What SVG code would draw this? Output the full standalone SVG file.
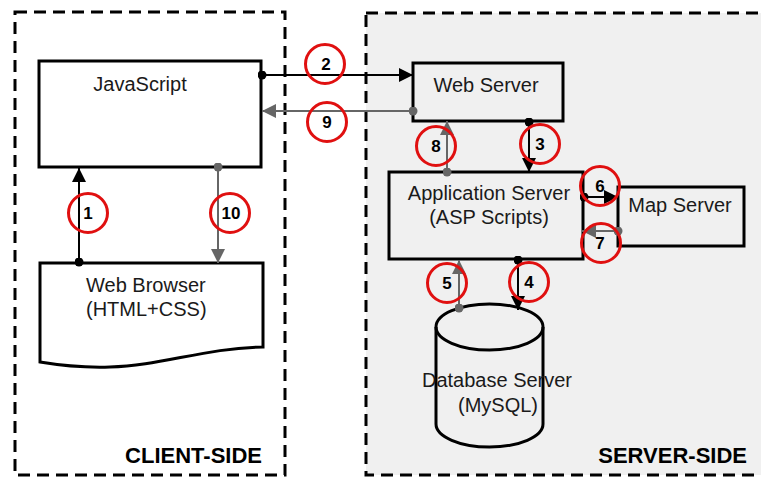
<svg xmlns="http://www.w3.org/2000/svg" width="761" height="477" viewBox="0 0 761 477">
<style>
text{font-family:"Liberation Sans",Arial,sans-serif;fill:#1a1a1a}
.lbl{font-size:20px}
.zone{fill:none;stroke:#000;stroke-width:3;stroke-dasharray:12 7}
.zt{font-size:22px;font-weight:bold;text-anchor:end;fill:#000}
.box{fill:none;stroke:#000;stroke-width:3}
.blk{stroke:#000;stroke-width:2;fill:none}
.gry{stroke:#666;stroke-width:2;fill:none}
.num circle{fill:none;stroke:#e01010;stroke-width:3}
.num text{font-size:17px;font-weight:bold;text-anchor:middle;fill:#000}
</style>
<defs>
<marker id="ab" viewBox="0 0 14 14" refX="14" refY="7" markerWidth="14" markerHeight="14" markerUnits="userSpaceOnUse" orient="auto"><path d="M0,0 L14,7 L0,14 z" fill="#000"/></marker>
<marker id="ag" viewBox="0 0 14 14" refX="14" refY="7" markerWidth="14" markerHeight="14" markerUnits="userSpaceOnUse" orient="auto"><path d="M0,0 L14,7 L0,14 z" fill="#666"/></marker>
<marker id="db" viewBox="0 0 10 10" refX="5" refY="5" markerWidth="9" markerHeight="9" markerUnits="userSpaceOnUse"><circle cx="5" cy="5" r="5" fill="#000"/></marker>
<marker id="dg" viewBox="0 0 10 10" refX="5" refY="5" markerWidth="9" markerHeight="9" markerUnits="userSpaceOnUse"><circle cx="5" cy="5" r="5" fill="#666"/></marker>
</defs>
<rect width="761" height="477" fill="#fff"/>
<g id="server-side">
<rect x="366" y="13" width="400" height="462" fill="#f0f0f0"/>
<rect x="366" y="13" width="400" height="462" class="zone"/>
<text class="zt" x="747" y="463">SERVER-SIDE</text>
</g>
<g id="client-side">
<rect x="15" y="12" width="270" height="463" class="zone"/>
<text class="zt" x="262" y="463">CLIENT-SIDE</text>
</g>
<g id="javascript">
<rect x="39" y="61" width="222" height="106" fill="#fff" stroke="#000" stroke-width="3"/>
<text class="lbl" x="140" y="91" text-anchor="middle">JavaScript</text>
</g>
<g id="web-browser">
<path d="M40,263 H263 V347 C205,348 160,366 110,367 C80,368 58,365 40,362 Z" fill="#fff" stroke="#000" stroke-width="3"/>
<text class="lbl" x="86" y="292">Web Browser</text>
<text class="lbl" x="86" y="316">(HTML+CSS)</text>
</g>
<g id="web-server">
<rect x="413" y="63" width="150" height="58" class="box"/>
<text class="lbl" x="486" y="92" text-anchor="middle">Web Server</text>
</g>
<g id="application-server">
<rect x="389" y="172" width="194" height="87" class="box"/>
<text class="lbl" x="489" y="200" text-anchor="middle">Application Server</text>
<text class="lbl" x="489" y="224" text-anchor="middle">(ASP Scripts)</text>
</g>
<g id="map-server">
<rect x="618" y="187" width="126" height="59" class="box"/>
<text class="lbl" x="680" y="212" text-anchor="middle">Map Server</text>
</g>
<g id="database-server">
<path d="M436,327 V424 A53.5,23 0 0 0 543,424 V327" fill="none" stroke="#000" stroke-width="3"/>
<ellipse cx="489.5" cy="327" rx="53.5" ry="23" fill="none" stroke="#000" stroke-width="3"/>
<text class="lbl" x="497" y="387" text-anchor="middle">Database Server</text>
<text class="lbl" x="498" y="412" text-anchor="middle">(MySQL)</text>
</g>
<g id="connectors">
<path class="blk" d="M79,262 V168" marker-start="url(#db)" marker-end="url(#ab)"/>
<path class="blk" d="M262,75 H413" marker-start="url(#db)" marker-end="url(#ab)"/>
<path class="blk" d="M529,122 V172" marker-start="url(#db)" marker-end="url(#ab)"/>
<path class="blk" d="M518,260 V310" marker-start="url(#db)" marker-end="url(#ab)"/>
<path class="gry" d="M459,308 V260" marker-start="url(#dg)" marker-end="url(#ag)"/>
<path class="blk" d="M584,197 H618" marker-start="url(#db)" marker-end="url(#ab)"/>
<path class="gry" d="M618,231 H582" marker-start="url(#dg)" marker-end="url(#ag)"/>
<path class="gry" d="M447,172 V121" marker-start="url(#dg)" marker-end="url(#ag)"/>
<path class="gry" d="M413,111 H262" marker-start="url(#dg)" marker-end="url(#ag)"/>
<path class="gry" d="M218,167 V263" marker-start="url(#dg)" marker-end="url(#ag)"/>
<g class="num">
<circle cx="88" cy="213" r="19.5"/><text x="88" y="219">1</text>
<circle cx="325" cy="64" r="19.5"/><text x="326" y="70">2</text>
<circle cx="540" cy="144" r="19.5"/><text x="540" y="150">3</text>
<circle cx="529" cy="282" r="19.5"/><text x="529" y="288">4</text>
<circle cx="447" cy="283" r="19.5"/><text x="447" y="289">5</text>
<circle cx="600" cy="186" r="19.5"/><text x="600" y="192">6</text>
<circle cx="601" cy="243" r="19.5"/><text x="600" y="249">7</text>
<circle cx="436" cy="146" r="19.5"/><text x="436" y="152">8</text>
<circle cx="327" cy="122" r="19.5"/><text x="327" y="128">9</text>
<circle cx="230" cy="213" r="19.5"/><text x="231" y="219">10</text>
</g>
</g>
</svg>
